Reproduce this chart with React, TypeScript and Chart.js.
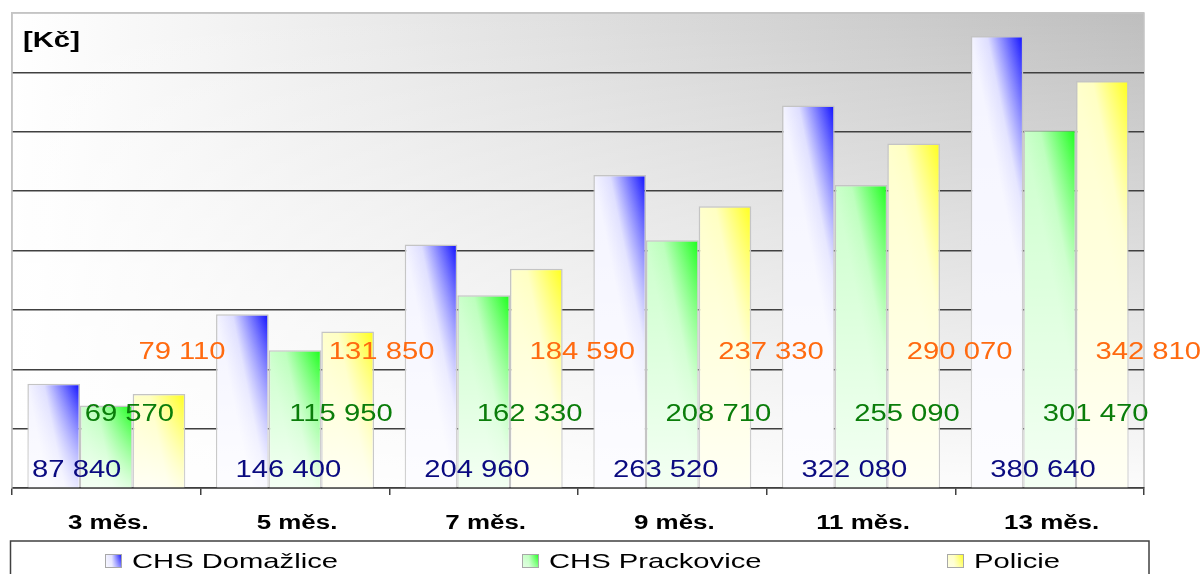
import React, { useEffect, useRef } from 'react';
import { Chart, registerables } from 'chart.js';

Chart.register(...registerables);

// ---- data ----
const categories = ['3 měs.', '5 měs.', '7 měs.', '9 měs.', '11 měs.', '13 měs.'];
const seriesNames = ['CHS Domažlice', 'CHS Prackovice', 'Policie'];
const domazlice = [87840, 146400, 204960, 263520, 322080, 380640];
const prackovice = [69570, 115950, 162330, 208710, 255090, 301470];
const policie = [79110, 131850, 184590, 237330, 290070, 342810];
const yMin = 0;
const yMax = 400000;
const yStep = 50000;
const unitLabel = '[Kč]';

// ---- styles ----
const FILLS = [
  { light: '#f4f4ff', mid: '#dedeff', dark: '#0000ff', label: '#0a0a80' },
  { light: '#ccffcc', mid: '#bcffbc', dark: '#10ff10', label: '#0a7d0a' },
  { light: '#ffffcc', mid: '#ffffc2', dark: '#ffff10', label: '#ff6a10' },
];
const CAT_PCT = 0.837;
const FONT = '"Liberation Sans", Arial, sans-serif';
const GRID_DARK = '#404040';
const FRAME = '#c4c4c4';

const fmt = (v: number) => String(v).replace(/\B(?=(\d{3})+(?!\d))/g, ' ');

function stretchedText(ctx: CanvasRenderingContext2D, text: string, x: number, y: number, sx: number, align: CanvasTextAlign) {
  ctx.save();
  ctx.translate(x, y);
  ctx.scale(sx, 1);
  ctx.textAlign = align;
  ctx.textBaseline = 'alphabetic';
  ctx.fillText(text, 0, 0);
  ctx.restore();
}

function barFill(c: any) {
  const chart = c.chart;
  const ds = c.datasetIndex;
  const f = FILLS[ds];
  const xs = chart.scales && chart.scales.x;
  const ys = chart.scales && chart.scales.y;
  if (!xs || !ys || !chart.chartArea || c.type !== 'data' || !xs.width) return f.dark;
  const n = chart.data.labels.length;
  const catW = xs.width / n;
  const groupW = catW * CAT_PCT;
  const barW = groupW / chart.data.datasets.length;
  const center = xs.getPixelForValue(c.dataIndex);
  const left = center - groupW / 2 + ds * barW;
  const top = ys.getPixelForValue(c.raw);
  const g = chart.ctx.createLinearGradient(left, top, left + barW, top - 0.2 * barW);
  g.addColorStop(0, f.light);
  g.addColorStop(0.3, f.mid);
  g.addColorStop(1, f.dark);
  return g;
}

const backgroundPlugin = {
  id: 'plotBackground',
  beforeDraw(chart: any) {
    const { ctx, chartArea: a } = chart;
    if (!a) return;
    ctx.save();
    const h = ctx.createLinearGradient(a.left, 0, a.right, 0);
    h.addColorStop(0, '#ffffff');
    h.addColorStop(1, '#bebebe');
    ctx.fillStyle = h;
    ctx.fillRect(a.left, a.top, a.right - a.left, a.bottom - a.top);
    const v = ctx.createLinearGradient(0, a.top, 0, a.bottom);
    v.addColorStop(0, 'rgba(255,255,255,0)');
    v.addColorStop(1, 'rgba(255,255,255,0.95)');
    ctx.fillStyle = v;
    ctx.fillRect(a.left, a.top, a.right - a.left, a.bottom - a.top);
    ctx.strokeStyle = FRAME;
    ctx.lineWidth = 1.5;
    ctx.strokeRect(a.left, a.top, a.right - a.left, a.bottom - a.top);
    ctx.restore();
  },
};

const overlayAndLabelsPlugin = {
  id: 'overlayLabels',
  afterDatasetsDraw(chart: any) {
    const { ctx, chartArea: a } = chart;
    ctx.save();
    chart.data.datasets.forEach((dset: any, i: number) => {
      const meta = chart.getDatasetMeta(i);
      meta.data.forEach((el: any) => {
        const { x, y, base, width } = el.getProps(['x', 'y', 'base', 'width'], true);
        const l = x - width / 2 + 1;
        const r = x + width / 2 - 1;
        const t = y + 1;
        const g = ctx.createLinearGradient(0, t, 0, base);
        g.addColorStop(0, 'rgba(255,255,255,0)');
        g.addColorStop(1, 'rgba(255,255,255,0.78)');
        ctx.fillStyle = g;
        ctx.fillRect(l, t, r - l, base - t);
      });
    });
    // data labels
    const rise = [11, 67, 129];
    ctx.font = `23px ${FONT}`;
    chart.data.datasets.forEach((dset: any, i: number) => {
      const meta = chart.getDatasetMeta(i);
      ctx.fillStyle = FILLS[i].label;
      meta.data.forEach((el: any, j: number) => {
        let nudge = j === 0 ? 23 : 46;
        if (i === 2 && j === 1) nudge = 34;
        const { x } = el.getProps(['x'], true);
        stretchedText(ctx, fmt(dset.data[j]), x + nudge, a.bottom - rise[i], 1.27, 'center');
      });
    });
    ctx.restore();
  },
  afterDraw(chart: any) {
    const { ctx, chartArea: a } = chart;
    const xs = chart.scales.x;
    ctx.save();
    // unit label
    ctx.fillStyle = '#000';
    ctx.font = `bold 22px ${FONT}`;
    stretchedText(ctx, unitLabel, a.left + 11, a.top + 34, 1.33, 'left');
    // category labels
    ctx.font = `bold 19.5px ${FONT}`;
    chart.data.labels.forEach((lab: string, j: number) => {
      stretchedText(ctx, lab, xs.getPixelForValue(j) + 2, a.bottom + 41, 1.33, 'center');
    });
    // legend
    ctx.strokeStyle = GRID_DARK;
    ctx.lineWidth = 1.5;
    ctx.strokeRect(10.5, 541, 1138.5, 60);
    const squareX = [105, 522, 947];
    ctx.font = `21px ${FONT}`;
    chart.data.datasets.forEach((dset: any, i: number) => {
      const sx = squareX[i];
      const f = FILLS[i];
      const g = ctx.createLinearGradient(sx, 0, sx + 17, 0);
      g.addColorStop(0, f.light);
      g.addColorStop(0.4, f.mid);
      g.addColorStop(1, f.dark);
      ctx.fillStyle = g;
      ctx.fillRect(sx, 554, 17, 14);
      const v = ctx.createLinearGradient(0, 554, 0, 568);
      v.addColorStop(0, 'rgba(255,255,255,0)');
      v.addColorStop(1, 'rgba(255,255,255,0.5)');
      ctx.fillStyle = v;
      ctx.fillRect(sx, 554, 17, 14);
      ctx.strokeStyle = '#a8a8a8';
      ctx.lineWidth = 1;
      ctx.strokeRect(sx + 0.5, 554.5, 16, 13);
      ctx.fillStyle = '#000';
      stretchedText(ctx, dset.label, sx + 27, 568, 1.39, 'left');
    });
    ctx.restore();
  },
};

export default function App() {
  const ref = useRef<HTMLCanvasElement>(null);
  useEffect(() => {
    const datasets = [domazlice, prackovice, policie].map((d, i) => ({
      label: seriesNames[i],
      data: d,
      backgroundColor: barFill,
      borderColor: FRAME,
      borderWidth: 1.5,
      barPercentage: 1,
      categoryPercentage: CAT_PCT,
    }));
    const chart = new Chart(ref.current as HTMLCanvasElement, {
      type: 'bar',
      data: { labels: categories, datasets },
      plugins: [backgroundPlugin, overlayAndLabelsPlugin],
      options: {
        animation: false,
        responsive: false,
        layout: { padding: { left: 12, top: 13, right: 60, bottom: 79 } },
        plugins: { legend: { display: false }, tooltip: { enabled: false }, title: { display: false } },
        scales: {
          x: {
            offset: true,
            ticks: { display: false },
            grid: {
              display: true,
              offset: true,
              drawOnChartArea: false,
              drawTicks: true,
              tickLength: 7,
              color: GRID_DARK,
              lineWidth: 1.5,
            },
            border: { display: true, color: GRID_DARK, width: 1.5 },
          },
          y: {
            min: yMin,
            max: yMax,
            ticks: { display: false, stepSize: yStep },
            grid: {
              drawTicks: false,
              color: (c: any) => (c.tick && c.tick.value === yMax ? FRAME : GRID_DARK),
              lineWidth: 1.5,
            },
            border: { display: true, color: FRAME, width: 1.5 },
          },
        },
      },
    } as any);
    return () => chart.destroy();
  }, []);
  return (
    <div style={{ position: 'fixed', left: 0, top: 0, width: 1204, height: 574, background: '#ffffff' }}>
      <canvas ref={ref} width={1204} height={574} />
    </div>
  );
}
